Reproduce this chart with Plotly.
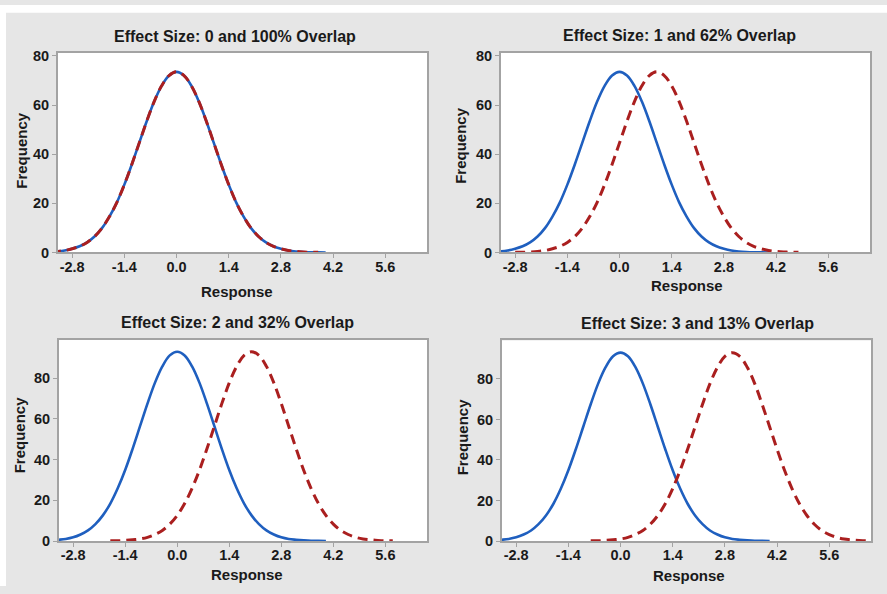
import plotly.graph_objects as go

# Response offsets from each group's mean
offsets = [-4.0, -3.8, -3.6, -3.4, -3.2, -3.0, -2.8, -2.6, -2.4, -2.2, -2.0,
           -1.8, -1.6, -1.4, -1.2, -1.0, -0.8, -0.6, -0.4, -0.2, 0.0,
           0.2, 0.4, 0.6, 0.8, 1.0, 1.2, 1.4, 1.6, 1.8, 2.0,
           2.2, 2.4, 2.6, 2.8, 3.0, 3.2, 3.4, 3.6, 3.8, 4.0]

# Frequency curve of a group (top row panels)
freq_top = [0.0, 0.05, 0.1, 0.2, 0.4, 0.8, 1.5, 2.5, 4.1, 6.5, 9.9,
            14.6, 20.4, 27.6, 35.8, 44.6, 53.4, 61.4, 67.8, 72.0, 73.5,
            72.0, 67.8, 61.4, 53.4, 44.6, 35.8, 27.6, 20.4, 14.6, 9.9,
            6.5, 4.1, 2.5, 1.5, 0.8, 0.4, 0.2, 0.1, 0.05, 0.0]

# Frequency curve of a group (bottom row panels)
freq_bottom = [0.0, 0.1, 0.1, 0.3, 0.6, 1.0, 1.8, 3.2, 5.2, 8.3, 12.6,
               18.4, 25.9, 34.9, 45.3, 56.4, 67.5, 77.7, 85.8, 91.2, 93.0,
               91.2, 85.8, 77.7, 67.5, 56.4, 45.3, 34.9, 25.9, 18.4, 12.6,
               8.3, 5.2, 3.2, 1.8, 1.0, 0.6, 0.3, 0.1, 0.1, 0.0]

effect_sizes = [0, 1, 2, 3]
overlaps = [100, 62, 32, 13]
x_ticks = [-2.8, -1.4, 0.0, 1.4, 2.8, 4.2, 5.6]
x_tick_labels = ["-2.8", "-1.4", "0.0", "1.4", "2.8", "4.2", "5.6"]
y_ticks = [0, 20, 40, 60, 80]

W, H = 887, 594
BG = "#e6e6e6"
BLUE = "#1f5fbf"
RED = "#aa1f1f"
FRAME = "#a3a3a3"
TEXT = "#1a1a1a"
FONT = "Liberation Sans, Arial, sans-serif"

# panel layout in pixels: (left, right, top, bottom)
panels = [(58, 427, 49, 253), (501, 870, 49, 253),
          (59, 427, 342, 548), (502, 871, 343, 548)]
y_max = [81.2, 81.2, 99.0, 99.0]
title_pos = [(235, 32), (679, 31), (237, 325), (697, 326)]
xlabel_pos = [(237, 293), (687, 287), (247, 582), (689, 583)]
ylabel_pos = [(22, 149), (461, 144), (19, 440), (462, 441)]

fig = go.Figure()
layout = dict(width=W, height=H, margin=dict(l=0, r=0, t=0, b=0),
              paper_bgcolor=BG, plot_bgcolor="white",
              showlegend=False, font=dict(family=FONT, color=TEXT))

annotations = []
# thin white strips along the top and left edges of the page
shapes = [dict(type="rect", xref="paper", yref="paper",
               x0=0.0, x1=1.0, y0=1 - 8 / H, y1=1.0,
               fillcolor="white", line=dict(width=0), layer="above"),
          dict(type="rect", xref="paper", yref="paper",
               x0=0.0, x1=6 / W, y0=0.0, y1=1.0,
               fillcolor="white", line=dict(width=0), layer="above")]

for i, es in enumerate(effect_sizes):
    n = i + 1
    xa = "x" if n == 1 else f"x{n}"
    ya = "y" if n == 1 else f"y{n}"
    freq = freq_top if i < 2 else freq_bottom
    left, right, top, bottom = panels[i]

    fig.add_trace(go.Scatter(
        x=offsets, y=freq, mode="lines", xaxis=xa, yaxis=ya,
        line=dict(color=BLUE, width=2.6, shape="spline")))
    fig.add_trace(go.Scatter(
        x=[o + es for o in offsets[1:-1]], y=freq[1:-1], mode="lines",
        xaxis=xa, yaxis=ya,
        line=dict(color=RED, width=3, dash="10px,6px", shape="spline")))

    axis_common = dict(showline=True, mirror=True, linecolor=FRAME, linewidth=2,
                       showgrid=False, zeroline=False, ticks="outside",
                       ticklen=4, tickwidth=1, tickcolor=FRAME,
                       tickfont=dict(family=FONT, size=14.5, color=TEXT,
                                     weight="bold"))
    layout["xaxis" if n == 1 else f"xaxis{n}"] = dict(
        axis_common, domain=[left / W, right / W], range=[-3.18, 6.72],
        tickvals=x_ticks, ticktext=x_tick_labels, anchor=ya,
        ticklabelstandoff=-4)
    layout["yaxis" if n == 1 else f"yaxis{n}"] = dict(
        axis_common, domain=[1 - bottom / H, 1 - top / H],
        range=[0, y_max[i]], tickvals=y_ticks, anchor=xa)

    tx, ty = title_pos[i]
    annotations.append(dict(
        text=f"<b>Effect Size: {es} and {overlaps[i]}% Overlap</b>",
        x=tx / W, y=1 - ty / H, xref="paper", yref="paper",
        showarrow=False, xanchor="center", yanchor="middle",
        font=dict(family=FONT, size=16, color=TEXT)))
    lx, ly = xlabel_pos[i]
    annotations.append(dict(
        text="<b>Response</b>", x=lx / W, y=1 - ly / H, xref="paper",
        yref="paper", showarrow=False, xanchor="center", yanchor="middle",
        font=dict(family=FONT, size=15, color=TEXT)))
    vx, vy = ylabel_pos[i]
    annotations.append(dict(
        text="<b>Frequency</b>", x=vx / W, y=1 - vy / H, xref="paper",
        yref="paper", showarrow=False, textangle=-90, xanchor="center",
        yanchor="middle", font=dict(family=FONT, size=15, color=TEXT)))

layout["annotations"] = annotations
layout["shapes"] = shapes
fig.update_layout(**layout)
fig.write_html("out.html")
